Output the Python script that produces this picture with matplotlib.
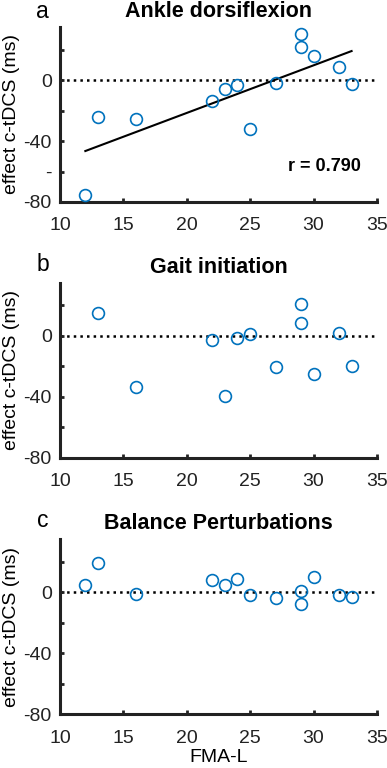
import numpy as np
import matplotlib
matplotlib.use('Agg')
import matplotlib.pyplot as plt

plt.rcParams['font.family'] = ['Liberation Sans', 'DejaVu Sans']
plt.rcParams['axes.unicode_minus'] = False

# FMA-L scores and c-tDCS effects (ms)
fma_a = [12, 13, 16, 22, 23, 24, 25, 27, 29, 29, 30, 32, 33]
eff_a = [-75.2, -24, -25.7, -14, -6, -3.3, -32, -1.7, 30.4, 22, 15.6, 8.7, -2.6]

fma_b = [13, 16, 22, 23, 24, 25, 27, 29, 29, 30, 32, 33]
eff_b = [15.2, -33.3, -2.6, -39.3, -1.5, 1.5, -20.7, 20.7, 8.7, -24.8, 1.7, -20]

fma_c = [12, 13, 16, 22, 23, 24, 25, 27, 29, 29, 30, 32, 33]
eff_c = [5, 19, -1, 8.3, 5, 8.7, -1.5, -3.7, 1, -7.4, 10.2, -2, -3]

titles = ['Ankle dorsiflexion', 'Gait initiation', 'Balance Perturbations']
letters = ['a', 'b', 'c']
r_text = 'r = 0.790'

blue = '#0072BD'

fig = plt.figure(figsize=(3.87, 7.68), dpi=100)
bottoms = [0.737, 0.404, 0.070]
letter_y = [18, 271, 527]  # baselines, px from top
data = [(fma_a, eff_a), (fma_b, eff_b), (fma_c, eff_c)]

for i, (x, y) in enumerate(data):
    ax = fig.add_axes([0.155, bottoms[i], 0.819, 0.228])
    ax.plot([10, 35], [0, 0], ':', color='k', lw=1.8, zorder=1)
    ax.plot(x, y, 'o', mfc='none', mec=blue, ms=8.5, mew=1.2, zorder=3)
    if i == 0:
        p = np.polyfit(x, y, 1)
        xx = np.array([min(x), max(x)])
        ax.plot(xx, np.polyval(p, xx), color='k', lw=1.5, zorder=2)
        ax.text(33.7, -56.5, r_text, ha='right', va='center',
                fontsize=13, fontweight='bold')
    ax.set_xlim(10, 35)
    ax.set_ylim(-80, 35)
    ax.set_xticks([10, 15, 20, 25, 30, 35])
    ax.set_yticks([-80, -60, -40, -20, 0, 20])
    if i == 0:
        ax.set_yticklabels(['-80', '-', '-40', '', '0', ''])
    else:
        ax.set_yticklabels(['-80', '', '-40', '', '0', ''])
    for s in ['top', 'right']:
        ax.spines[s].set_visible(False)
    for s in ['left', 'bottom']:
        ax.spines[s].set_linewidth(2.2)
        ax.spines[s].set_color('#222222')
    ax.tick_params(direction='in', length=3, width=2, labelsize=14,
                   colors='#222222')
    ax.tick_params(axis='x', pad=11)
    ax.tick_params(axis='y', pad=6)
    ax.set_ylabel('effect c-tDCS (ms)', fontsize=14, labelpad=2)
    ax.set_title(titles[i], fontsize=15.5, fontweight='bold', pad=7)
    if i == 2:
        ax.set_xlabel('FMA-L', fontsize=14, labelpad=2)
    fig.text(0.11, 1 - letter_y[i] / 768, letters[i], fontsize=16.5,
             ha='center', va='baseline')

fig.savefig('out.png', dpi=100)
